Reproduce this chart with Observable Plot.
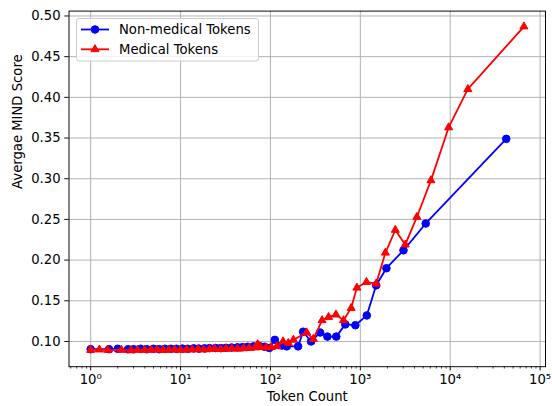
<!DOCTYPE html>
<html>
<head>
<meta charset="utf-8">
<script src="https://cdn.jsdelivr.net/npm/d3@7"></script>
<script src="https://cdn.jsdelivr.net/npm/@observablehq/plot@0.6"></script>
<style>
  html, body { margin: 0; padding: 0; background: white; }
  #wrap { position: relative; width: 552px; height: 406px; font-family: "DejaVu Sans", sans-serif; }
  #legend { position: absolute; left: 0; top: 0; }
</style>
</head>
<body>
<div id="wrap"></div>
<script>
// ---- data ----
const nonMedicalCount = [1, 1.6, 2, 2.6, 3, 3.6, 4.2, 5, 5.8, 6.7, 7.8, 9, 10.5, 12, 14, 16, 18.5, 21, 24.5, 28, 32, 37, 43, 49, 56, 65, 75, 86, 97,
  112, 134, 152, 203, 231, 283, 357, 430, 540, 680, 880, 1180, 1500, 1950, 3020, 5340, 42000];
const nonMedicalScore = [0.0905, 0.0905, 0.091, 0.0905, 0.0905, 0.091, 0.0905, 0.091, 0.0905, 0.091, 0.091, 0.091, 0.0912, 0.091, 0.0915, 0.0912, 0.0915, 0.0918, 0.092, 0.0918, 0.0922, 0.0925, 0.0928, 0.093, 0.0935, 0.094, 0.0945, 0.0935, 0.092,
  0.102, 0.095, 0.094, 0.094, 0.112, 0.100, 0.111, 0.106, 0.106, 0.121, 0.120, 0.132, 0.169, 0.190, 0.212, 0.245, 0.349];

const medicalCount = [1, 1.25, 1.55, 2.2, 2.8, 3.3, 4, 4.7, 5.5, 6.4, 7.4, 8.6, 10, 11.7, 13.5, 15.7, 18, 21, 24, 28, 32, 37, 43, 50, 58, 67, 72, 78, 90,
  102, 118, 138, 158, 180, 253, 300, 375, 443, 535, 650, 790, 915, 1170, 1500, 1900, 2450, 3160, 4260, 6100, 9600, 15700, 66000];
const medicalScore = [0.0895, 0.090, 0.0895, 0.0895, 0.089, 0.0895, 0.0895, 0.0895, 0.090, 0.0895, 0.0895, 0.090, 0.0895, 0.090, 0.090, 0.0905, 0.090, 0.0905, 0.091, 0.0905, 0.091, 0.0915, 0.091, 0.0915, 0.092, 0.0925, 0.0965, 0.093, 0.0925,
  0.093, 0.094, 0.100, 0.098, 0.102, 0.111, 0.103, 0.126, 0.130, 0.133, 0.126, 0.141, 0.166, 0.173, 0.171, 0.209, 0.237, 0.219, 0.253, 0.298, 0.363, 0.410, 0.487];

const seriesNames = ["Non-medical Tokens", "Medical Tokens"];
const xTicks = [1, 10, 100, 1000, 10000, 100000];
const xTickLabels = ["10\u2070", "10\u00b9", "10\u00b2", "10\u00b3", "10\u2074", "10\u2075"];
const yTicks = [0.10, 0.15, 0.20, 0.25, 0.30, 0.35, 0.40, 0.45, 0.50];
const xLabel = "Token Count";
const yLabel = "Avergae MIND Score";

// ---- tables ----
const nonMed = nonMedicalCount.map((c, i) => ({count: c, score: nonMedicalScore[i]}));
const med = medicalCount.map((c, i) => ({count: c, score: medicalScore[i]}));
const minorTicks = [];
for (let k = -1; k <= 5; k++) for (let m = 2; m <= 9; m++) {
  const v = m * Math.pow(10, k);
  if (v > 0.574 && v < 114800) minorTicks.push(v);
}

const BLUE = "#0000ff", RED = "#ff0000";
const FS = 13.2;

const chart = Plot.plot({
  width: 552,
  height: 406,
  marginLeft: 68.5,
  marginRight: 7,
  marginTop: 10.6,
  marginBottom: 39.8,
  style: {fontFamily: "DejaVu Sans, sans-serif", fontSize: FS + "px", color: "#000", background: "white", overflow: "visible"},
  x: {type: "log", domain: [0.574, 114800]},
  y: {domain: [0.069, 0.506]},
  marks: [
    Plot.gridX(xTicks, {stroke: "#b0b0b0", strokeOpacity: 1, strokeWidth: 0.96}),
    Plot.gridY(yTicks, {stroke: "#b0b0b0", strokeOpacity: 1, strokeWidth: 0.96}),
    Plot.line(nonMed, {x: "count", y: "score", stroke: BLUE, strokeWidth: 1.8}),
    Plot.dot(nonMed, {x: "count", y: "score", fill: BLUE, stroke: BLUE, strokeWidth: 1, r: 3.8, symbol: "circle"}),
    Plot.line(med, {x: "count", y: "score", stroke: RED, strokeWidth: 1.8}),
    Plot.dot(med, {x: "count", y: "score", fill: RED, stroke: RED, strokeWidth: 1, r: 3.0, symbol: "triangle"}),
    Plot.frame({stroke: "black", strokeWidth: 0.96}),
    Plot.axisX(xTicks, {tickFormat: d => xTickLabels[xTicks.indexOf(d)], tickSize: 4.2, tickPadding: 3.5, label: null, fontSize: FS, stroke: "black", strokeWidth: 0.96}),
    Plot.axisX(minorTicks, {tickFormat: () => "", tickSize: 2.4, label: null, stroke: "black", strokeWidth: 0.7}),
    Plot.axisY(yTicks, {tickFormat: d3.format(".2f"), tickSize: 4.2, tickPadding: 4.2, label: null, fontSize: FS, stroke: "black", strokeWidth: 0.96}),
    Plot.text([xLabel], {frameAnchor: "bottom", dy: 34.5, fontSize: FS}),
    Plot.text([yLabel], {frameAnchor: "left", dx: -51, rotate: -90, fontSize: FS})
  ]
});
document.getElementById("wrap").appendChild(chart);

// ---- legend (inside axes, upper left) ----
const lg = d3.select("#wrap").append("svg").attr("id", "legend")
  .attr("width", 552).attr("height", 406)
  .style("font-family", "DejaVu Sans, sans-serif").style("font-size", FS + "px");
lg.append("rect").attr("x", 76.5).attr("y", 18.5).attr("width", 182).attr("height", 42.5)
  .attr("rx", 2.5).attr("fill", "white").attr("fill-opacity", 0.8).attr("stroke", "#cccccc").attr("stroke-width", 1);
const rows = [
  {name: seriesNames[0], color: BLUE, sym: d3.symbolCircle, size: Math.PI * 3.8 * 3.8, y: 29.5},
  {name: seriesNames[1], color: RED, sym: d3.symbolTriangle, size: Math.PI * 3.0 * 3.0, y: 49.3}
];
rows.forEach(r => {
  lg.append("line").attr("x1", 81).attr("x2", 109).attr("y1", r.y).attr("y2", r.y)
    .attr("stroke", r.color).attr("stroke-width", 1.8);
  lg.append("path").attr("d", d3.symbol(r.sym, r.size)()).attr("transform", `translate(95,${r.y})`)
    .attr("fill", r.color).attr("stroke", r.color).attr("stroke-width", 1);
  lg.append("text").attr("x", 119).attr("y", r.y).attr("dy", "0.35em").attr("fill", "black").text(r.name);
});
</script>
</body>
</html>
